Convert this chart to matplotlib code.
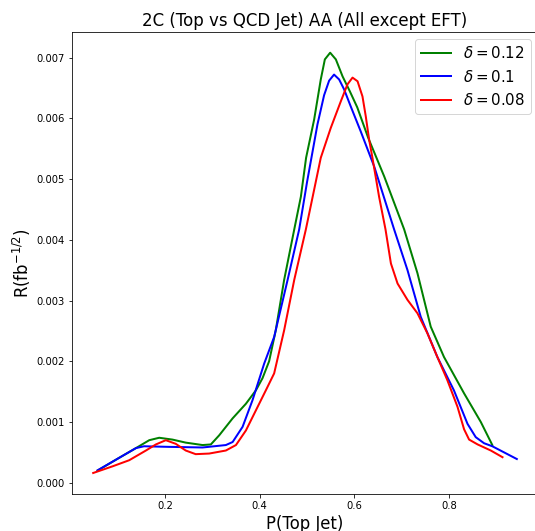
import matplotlib
matplotlib.use("Agg")
import matplotlib.pyplot as plt

# delta = 0.12 (green)
x_g = [0.058, 0.1036, 0.139, 0.167, 0.188, 0.216, 0.244, 0.2795, 0.297, 0.3146, 0.343,
       0.371, 0.392, 0.406, 0.420, 0.434, 0.4517, 0.473, 0.487, 0.498, 0.515, 0.529,
       0.5376, 0.5488, 0.5608, 0.575, 0.590, 0.606, 0.629, 0.663, 0.705, 0.733, 0.761,
       0.789, 0.8315, 0.8667, 0.891]
r_g = [0.00020, 0.00041, 0.00057, 0.00070, 0.00074, 0.00071, 0.00066, 0.00062, 0.00063,
       0.00078, 0.00106, 0.00130, 0.00152, 0.00172, 0.00200, 0.00251, 0.00334, 0.00417,
       0.00471, 0.00535, 0.00598, 0.00664, 0.00697, 0.00708, 0.00697, 0.00669, 0.00645,
       0.00618, 0.00568, 0.00504, 0.00417, 0.00345, 0.00257, 0.00207, 0.00147, 0.00100,
       0.00062]

# delta = 0.1 (blue)
x_b = [0.058, 0.1036, 0.139, 0.156, 0.209, 0.2795, 0.3287, 0.343, 0.364, 0.385, 0.4095,
       0.4306, 0.459, 0.4834, 0.500, 0.5116, 0.522, 0.536, 0.5466, 0.557, 0.5677, 0.578,
       0.592, 0.6135, 0.6346, 0.6416, 0.6838, 0.712, 0.740, 0.775, 0.810, 0.8386, 0.856,
       0.8736, 0.891, 0.9427]
r_b = [0.000204, 0.00041, 0.00057, 0.00060, 0.00059, 0.00058, 0.00062, 0.00067, 0.00092,
       0.00136, 0.00196, 0.00240, 0.00334, 0.00417, 0.00495, 0.00545, 0.00590, 0.00638,
       0.00662, 0.00672, 0.00664, 0.00648, 0.00620, 0.00578, 0.00535, 0.00521, 0.00417,
       0.00350, 0.00273, 0.00207, 0.00152, 0.00097, 0.00075, 0.00065, 0.00060, 0.00039]

# delta = 0.08 (red)
x_r = [0.0487, 0.0897, 0.1247, 0.160, 0.181, 0.202, 0.223, 0.244, 0.265, 0.2935, 0.3287,
       0.350, 0.371, 0.392, 0.413, 0.4306, 0.4517, 0.473, 0.4975, 0.513, 0.529, 0.550,
       0.5713, 0.5854, 0.596, 0.6066, 0.617, 0.624, 0.631, 0.638, 0.652, 0.6656, 0.677,
       0.691, 0.712, 0.733, 0.754, 0.775, 0.796, 0.8175, 0.8314, 0.842, 0.860, 0.8878,
       0.9125]
r_r = [0.00016, 0.00027, 0.00037, 0.00053, 0.00063, 0.00070, 0.00064, 0.00053, 0.00047,
       0.00048, 0.00053, 0.00062, 0.00086, 0.00119, 0.00152, 0.00180, 0.00251, 0.00334,
       0.00417, 0.00475, 0.00535, 0.00584, 0.00628, 0.00656, 0.00667, 0.00661, 0.00636,
       0.00603, 0.00565, 0.00535, 0.00471, 0.00417, 0.00361, 0.00328, 0.00301, 0.00279,
       0.00246, 0.00207, 0.00169, 0.00125, 0.00088, 0.00071, 0.00063, 0.00053, 0.00042]

labels = [r"$\delta = 0.12$", r"$\delta = 0.1$", r"$\delta = 0.08$"]
colors = ["green", "blue", "red"]

fig = plt.figure(figsize=(535 / 72, 531 / 72), dpi=72)
ax = fig.add_axes([72 / 535, 37 / 531, 466 / 535, 462.3 / 531])

for xs, ys, lab, c in zip([x_g, x_b, x_r], [r_g, r_b, r_r], labels, colors):
    ax.plot(xs, ys, color=c, lw=2, label=lab)

ax.set_title("2C (Top vs QCD Jet) AA (All except EFT)", fontsize=16.6)
ax.set_xlabel("P(Top Jet)", fontsize=16.5)
ax.set_ylabel(r"R(fb$^{-1/2}$)", fontsize=16.5)
ax.set_xticks([0.2, 0.4, 0.6, 0.8])
ax.tick_params(labelsize=10)
ax.spines["right"].set_visible(False)
ax.legend(loc="upper right", fontsize=15)

fig.savefig("out.png", dpi=72)
